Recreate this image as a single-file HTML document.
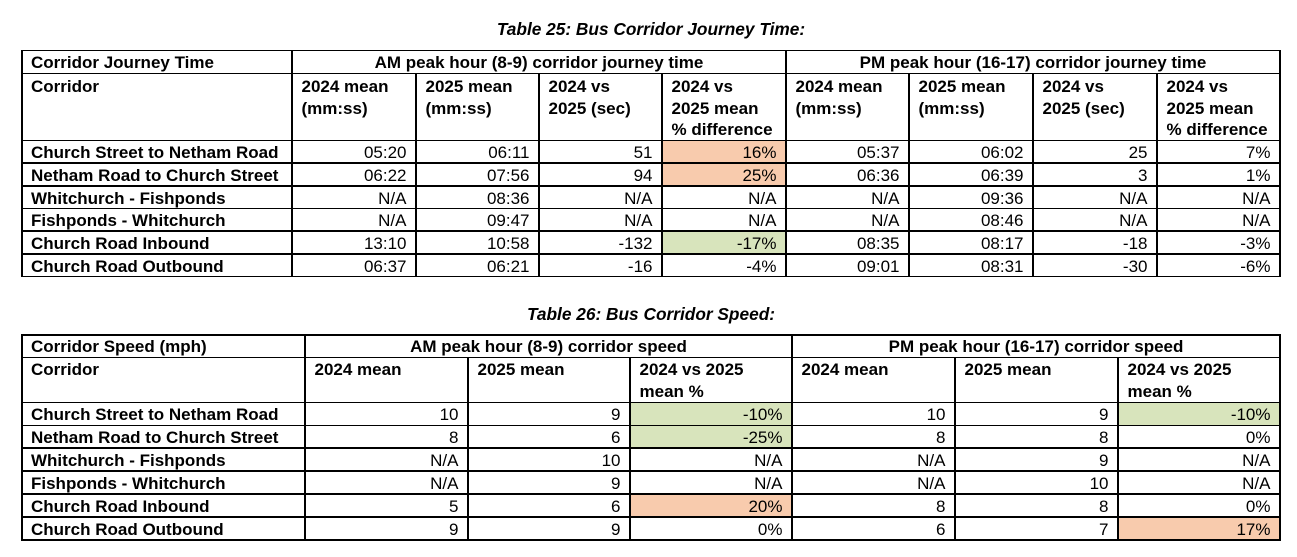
<!DOCTYPE html>
<html><head><meta charset="utf-8">
<style>
*{margin:0;padding:0;box-sizing:border-box}
html,body{width:1297px;height:557px;background:#fff;overflow:hidden;position:relative}
.t{position:absolute;font-family:"Liberation Sans",sans-serif;font-size:17px;line-height:19px;white-space:nowrap;color:#000}
.b{font-weight:bold}
.i{font-style:italic}
.r{text-align:right}
.c{text-align:center}
.row{position:absolute;left:0;width:1297px;height:19px}
.row .t{top:0}
.h{position:absolute;background:#000;height:1.5px}
.v{position:absolute;background:#000;width:1.5px}
.f{position:absolute}
.or{background:#F8CBAD}
.gr{background:#D8E4BC}
.hd{line-height:21.7px}
.a1{left:292px;width:114.5px}.a2{left:416px;width:113.5px}.a3{left:539px;width:113.5px}.a4{left:662px;width:114.5px}
.a5{left:786px;width:113.5px}.a6{left:909px;width:114.5px}.a7{left:1033px;width:114.5px}.a8{left:1157px;width:113.5px}
.b1{left:305px;width:153.5px}.b2{left:468px;width:152.5px}.b3{left:630px;width:152.5px}
.b4{left:792px;width:153.5px}.b5{left:955px;width:153.5px}.b6{left:1118px;width:152.5px}
.L{left:31px}
.ttl{font-size:17.3px}
</style></head><body>

<!-- Titles -->
<div class="t b i c ttl" style="left:22px;width:1258px;top:20.4px">Table 25: Bus Corridor Journey Time:</div>
<div class="t b i c ttl" style="left:22px;width:1258px;top:305.1px">Table 26: Bus Corridor Speed:</div>

<!-- ===== Table 1 fills ===== -->
<div class="f or" style="left:662px;top:140.3px;width:124px;height:22.7px"></div>
<div class="f or" style="left:662px;top:163px;width:124px;height:22.8px"></div>
<div class="f gr" style="left:662px;top:231.2px;width:124px;height:22.8px"></div>

<!-- Table 1 horizontal lines -->
<div class="h" style="left:21.25px;width:1259.5px;top:49.55px"></div>
<div class="h" style="left:21.25px;width:1259.5px;top:72.55px"></div>
<div class="h" style="left:21.25px;width:1259.5px;top:139.55px"></div>
<div class="h" style="left:21.25px;width:1259.5px;top:162.25px"></div>
<div class="h" style="left:21.25px;width:1259.5px;top:185.05px"></div>
<div class="h" style="left:21.25px;width:1259.5px;top:207.75px"></div>
<div class="h" style="left:21.25px;width:1259.5px;top:230.45px"></div>
<div class="h" style="left:21.25px;width:1259.5px;top:253.25px"></div>
<div class="h" style="left:21.25px;width:1259.5px;top:275.95px"></div>
<!-- Table 1 vertical lines -->
<div class="v" style="left:21.25px;top:49.55px;height:227.9px"></div>
<div class="v" style="left:291.25px;top:49.55px;height:227.9px"></div>
<div class="v" style="left:785.25px;top:49.55px;height:227.9px"></div>
<div class="v" style="left:1279.25px;top:49.55px;height:227.9px"></div>
<div class="v" style="left:415.25px;top:72.55px;height:204.9px"></div>
<div class="v" style="left:538.25px;top:72.55px;height:204.9px"></div>
<div class="v" style="left:661.25px;top:72.55px;height:204.9px"></div>
<div class="v" style="left:908.25px;top:72.55px;height:204.9px"></div>
<div class="v" style="left:1032.25px;top:72.55px;height:204.9px"></div>
<div class="v" style="left:1156.25px;top:72.55px;height:204.9px"></div>

<!-- Table 1 header row 0 -->
<div class="row" style="top:53.2px">
<div class="t b L">Corridor Journey Time</div>
<div class="t b c" style="left:292px;width:494px">AM peak hour (8-9) corridor journey time</div>
<div class="t b c" style="left:786px;width:494px">PM peak hour (16-17) corridor journey time</div>
</div>
<!-- Table 1 header row 1 -->
<div class="row" style="top:75.85px">
<div class="t b hd L">Corridor</div>
<div class="t b hd" style="left:301.5px">2024 mean<br>(mm:ss)</div>
<div class="t b hd" style="left:425.5px">2025 mean<br>(mm:ss)</div>
<div class="t b hd" style="left:548.5px">2024 vs<br>2025 (sec)</div>
<div class="t b hd" style="left:671.5px">2024 vs<br>2025 mean<br>% difference</div>
<div class="t b hd" style="left:795.5px">2024 mean<br>(mm:ss)</div>
<div class="t b hd" style="left:918.5px">2025 mean<br>(mm:ss)</div>
<div class="t b hd" style="left:1042.5px">2024 vs<br>2025 (sec)</div>
<div class="t b hd" style="left:1166.5px">2024 vs<br>2025 mean<br>% difference</div>
</div>

<!-- Table 1 data -->
<div class="row" style="top:143.2px">
<div class="t b L">Church Street to Netham Road</div>
<div class="t r a1">05:20</div><div class="t r a2">06:11</div><div class="t r a3">51</div><div class="t r a4">16%</div>
<div class="t r a5">05:37</div><div class="t r a6">06:02</div><div class="t r a7">25</div><div class="t r a8">7%</div>
</div>
<div class="row" style="top:166px">
<div class="t b L">Netham Road to Church Street</div>
<div class="t r a1">06:22</div><div class="t r a2">07:56</div><div class="t r a3">94</div><div class="t r a4">25%</div>
<div class="t r a5">06:36</div><div class="t r a6">06:39</div><div class="t r a7">3</div><div class="t r a8">1%</div>
</div>
<div class="row" style="top:188.7px">
<div class="t b L">Whitchurch - Fishponds</div>
<div class="t r a1">N/A</div><div class="t r a2">08:36</div><div class="t r a3">N/A</div><div class="t r a4">N/A</div>
<div class="t r a5">N/A</div><div class="t r a6">09:36</div><div class="t r a7">N/A</div><div class="t r a8">N/A</div>
</div>
<div class="row" style="top:211.4px">
<div class="t b L">Fishponds - Whitchurch</div>
<div class="t r a1">N/A</div><div class="t r a2">09:47</div><div class="t r a3">N/A</div><div class="t r a4">N/A</div>
<div class="t r a5">N/A</div><div class="t r a6">08:46</div><div class="t r a7">N/A</div><div class="t r a8">N/A</div>
</div>
<div class="row" style="top:234.2px">
<div class="t b L">Church Road Inbound</div>
<div class="t r a1">13:10</div><div class="t r a2">10:58</div><div class="t r a3">-132</div><div class="t r a4">-17%</div>
<div class="t r a5">08:35</div><div class="t r a6">08:17</div><div class="t r a7">-18</div><div class="t r a8">-3%</div>
</div>
<div class="row" style="top:256.9px">
<div class="t b L">Church Road Outbound</div>
<div class="t r a1">06:37</div><div class="t r a2">06:21</div><div class="t r a3">-16</div><div class="t r a4">-4%</div>
<div class="t r a5">09:01</div><div class="t r a6">08:31</div><div class="t r a7">-30</div><div class="t r a8">-6%</div>
</div>

<!-- ===== Table 2 fills ===== -->
<div class="f gr" style="left:630px;top:402.3px;width:162px;height:22.95px"></div>
<div class="f gr" style="left:630px;top:425.25px;width:162px;height:22.95px"></div>
<div class="f or" style="left:630px;top:494.1px;width:162px;height:22.95px"></div>
<div class="f gr" style="left:1118px;top:402.3px;width:162px;height:22.95px"></div>
<div class="f or" style="left:1118px;top:517.05px;width:162px;height:22.95px"></div>

<!-- Table 2 horizontal lines -->
<div class="h" style="left:21.25px;width:1259.5px;top:334.25px"></div>
<div class="h" style="left:21.25px;width:1259.5px;top:356.55px"></div>
<div class="h" style="left:21.25px;width:1259.5px;top:401.55px"></div>
<div class="h" style="left:21.25px;width:1259.5px;top:424.5px"></div>
<div class="h" style="left:21.25px;width:1259.5px;top:447.45px"></div>
<div class="h" style="left:21.25px;width:1259.5px;top:470.4px"></div>
<div class="h" style="left:21.25px;width:1259.5px;top:493.35px"></div>
<div class="h" style="left:21.25px;width:1259.5px;top:516.3px"></div>
<div class="h" style="left:21.25px;width:1259.5px;top:539.25px"></div>
<!-- Table 2 vertical lines -->
<div class="v" style="left:21.25px;top:334.25px;height:206.5px"></div>
<div class="v" style="left:304.25px;top:334.25px;height:206.5px"></div>
<div class="v" style="left:791.25px;top:334.25px;height:206.5px"></div>
<div class="v" style="left:1279.25px;top:334.25px;height:206.5px"></div>
<div class="v" style="left:467.25px;top:356.55px;height:184.2px"></div>
<div class="v" style="left:629.25px;top:356.55px;height:184.2px"></div>
<div class="v" style="left:954.25px;top:356.55px;height:184.2px"></div>
<div class="v" style="left:1117.25px;top:356.55px;height:184.2px"></div>

<!-- Table 2 header row 0 -->
<div class="row" style="top:337.2px">
<div class="t b L">Corridor Speed (mph)</div>
<div class="t b c" style="left:305px;width:487px">AM peak hour (8-9) corridor speed</div>
<div class="t b c" style="left:792px;width:488px">PM peak hour (16-17) corridor speed</div>
</div>
<!-- Table 2 header row 1 -->
<div class="row" style="top:358.95px">
<div class="t b hd L">Corridor</div>
<div class="t b hd" style="left:314.5px">2024 mean</div>
<div class="t b hd" style="left:477.5px">2025 mean</div>
<div class="t b hd" style="left:639.5px">2024 vs 2025<br>mean %</div>
<div class="t b hd" style="left:801.5px">2024 mean</div>
<div class="t b hd" style="left:964.5px">2025 mean</div>
<div class="t b hd" style="left:1127.5px">2024 vs 2025<br>mean %</div>
</div>

<!-- Table 2 data -->
<div class="row" style="top:405.45px">
<div class="t b L">Church Street to Netham Road</div>
<div class="t r b1">10</div><div class="t r b2">9</div><div class="t r b3">-10%</div>
<div class="t r b4">10</div><div class="t r b5">9</div><div class="t r b6">-10%</div>
</div>
<div class="row" style="top:428.4px">
<div class="t b L">Netham Road to Church Street</div>
<div class="t r b1">8</div><div class="t r b2">6</div><div class="t r b3">-25%</div>
<div class="t r b4">8</div><div class="t r b5">8</div><div class="t r b6">0%</div>
</div>
<div class="row" style="top:451.35px">
<div class="t b L">Whitchurch - Fishponds</div>
<div class="t r b1">N/A</div><div class="t r b2">10</div><div class="t r b3">N/A</div>
<div class="t r b4">N/A</div><div class="t r b5">9</div><div class="t r b6">N/A</div>
</div>
<div class="row" style="top:474.3px">
<div class="t b L">Fishponds - Whitchurch</div>
<div class="t r b1">N/A</div><div class="t r b2">9</div><div class="t r b3">N/A</div>
<div class="t r b4">N/A</div><div class="t r b5">10</div><div class="t r b6">N/A</div>
</div>
<div class="row" style="top:497.25px">
<div class="t b L">Church Road Inbound</div>
<div class="t r b1">5</div><div class="t r b2">6</div><div class="t r b3">20%</div>
<div class="t r b4">8</div><div class="t r b5">8</div><div class="t r b6">0%</div>
</div>
<div class="row" style="top:520.2px">
<div class="t b L">Church Road Outbound</div>
<div class="t r b1">9</div><div class="t r b2">9</div><div class="t r b3">0%</div>
<div class="t r b4">6</div><div class="t r b5">7</div><div class="t r b6">17%</div>
</div>

</body></html>
